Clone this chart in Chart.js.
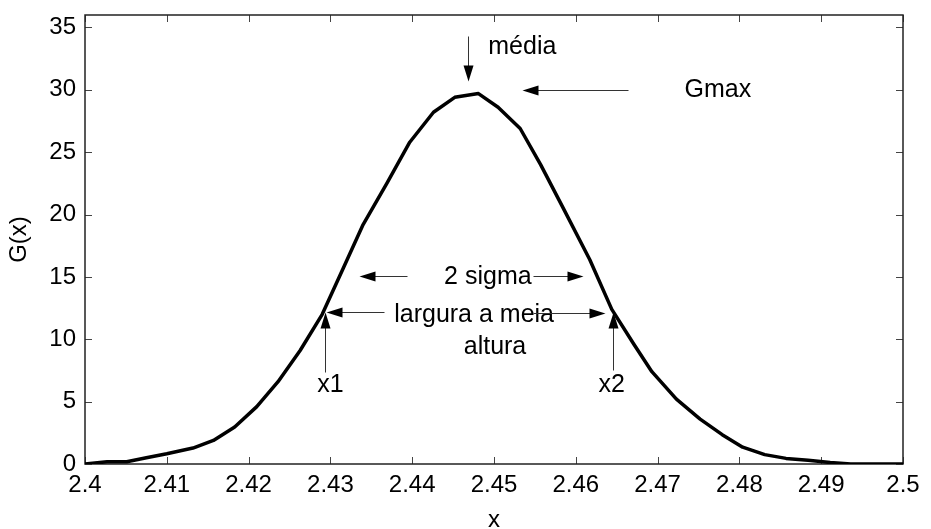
<!DOCTYPE html>
<html>
<head>
<meta charset="utf-8">
<title>G(x)</title>
<script src="https://cdn.jsdelivr.net/npm/chart.js@4/dist/chart.umd.min.js"></script>
<style>
  html, body { margin: 0; padding: 0; background: #fff; }
  #wrap { width: 931px; height: 529px; }
</style>
</head>
<body>
<div id="wrap"><canvas id="gauss" width="931" height="529"></canvas></div>
<script>
// Sampled curve G(x)
const xValues = [
  2.4000, 2.4027, 2.4051, 2.4075, 2.4100, 2.4132, 2.4157, 2.4183, 2.4210, 2.4236,
  2.4263, 2.4290, 2.4315, 2.4340, 2.4369, 2.4397, 2.4426, 2.4452, 2.4481, 2.4505,
  2.4532, 2.4557, 2.4584, 2.4617, 2.4644, 2.4671, 2.4693, 2.4723, 2.4752, 2.4779,
  2.4804, 2.4831, 2.4857, 2.4884, 2.4911, 2.4936, 2.4968, 2.5000
];
const gValues = [
  0, 0.18, 0.18, 0.5, 0.82, 1.28, 1.89, 2.96, 4.6, 6.6,
  9.1, 12.0, 15.6, 19.2, 22.5, 25.8, 28.2, 29.4, 29.7, 28.6,
  26.9, 24.0, 20.6, 16.4, 12.4, 9.6, 7.4, 5.2, 3.6, 2.35,
  1.35, 0.75, 0.45, 0.3, 0.12, 0, 0, 0
];

const xTicks = [2.4, 2.41, 2.42, 2.43, 2.44, 2.45, 2.46, 2.47, 2.48, 2.49, 2.5];
const yTicks = [0, 5, 10, 15, 20, 25, 30, 35];

// Callout labels and arrows, in data units
const notes = [
  { text: 'média', x: 2.4493, y: 33.4, align: 'left' },
  { text: 'Gmax', x: 2.4733, y: 30.0, align: 'left' },
  { text: '2 sigma', x: 2.4439, y: 15.0, align: 'left' },
  { text: 'largura a meia', x: 2.4378, y: 11.9, align: 'left' },
  { text: 'altura', x: 2.4463, y: 9.4, align: 'left' },
  { text: 'x1', x: 2.4300, y: 6.35, align: 'center' },
  { text: 'x2', x: 2.4644, y: 6.35, align: 'center' }
];
const arrows = [
  { from: [2.4468, 34.3], to: [2.4468, 30.7] },
  { from: [2.4664, 30.0], to: [2.4534, 30.0] },
  { from: [2.4394, 15.05], to: [2.4335, 15.05] },
  { from: [2.4548, 15.05], to: [2.4609, 15.05] },
  { from: [2.4365, 12.2], to: [2.4295, 12.2] },
  { from: [2.4548, 12.1], to: [2.4636, 12.1] },
  { from: [2.4293, 7.4], to: [2.4293, 12.2] },
  { from: [2.4645, 7.55], to: [2.4645, 12.2] }
];

const FONT = '"Liberation Sans", Arial, Helvetica, sans-serif';

function drawArrow(ctx, x0, y0, x1, y1) {
  const ang = Math.atan2(y1 - y0, x1 - x0);
  const len = 16, half = 5;
  const cos = Math.cos(ang), sin = Math.sin(ang);
  ctx.beginPath();
  ctx.moveTo(x0, y0);
  ctx.lineTo(x1 - cos * len * 0.8, y1 - sin * len * 0.8);
  ctx.stroke();
  ctx.beginPath();
  ctx.moveTo(x1, y1);
  ctx.lineTo(x1 - len * cos + half * sin, y1 - len * sin - half * cos);
  ctx.lineTo(x1 - len * cos - half * sin, y1 - len * sin + half * cos);
  ctx.closePath();
  ctx.fill();
}

// Box with inward ticks on all four sides
const framePlugin = {
  id: 'frame',
  beforeDatasetsDraw(chart) {
    const { ctx, chartArea: a, scales: { x, y } } = chart;
    ctx.save();
    ctx.strokeStyle = '#444';
    ctx.lineWidth = 1;
    ctx.beginPath();
    xTicks.forEach((v) => {
      const px = Math.round(x.getPixelForValue(v)) + 0.5;
      ctx.moveTo(px, a.bottom);
      ctx.lineTo(px, a.bottom - 7);
      ctx.moveTo(px, a.top);
      ctx.lineTo(px, a.top + 7);
    });
    yTicks.forEach((v) => {
      const py = Math.round(y.getPixelForValue(v)) + 0.5;
      ctx.moveTo(a.left, py);
      ctx.lineTo(a.left + 7, py);
      ctx.moveTo(a.right, py);
      ctx.lineTo(a.right - 7, py);
    });
    ctx.stroke();
    ctx.strokeStyle = '#222';
    ctx.lineWidth = 1.5;
    ctx.strokeRect(a.left, a.top, a.right - a.left, a.bottom - a.top);
    ctx.restore();
  },
  afterDatasetsDraw(chart) {
    const { ctx, scales: { x, y } } = chart;
    ctx.save();
    ctx.fillStyle = '#000';
    ctx.font = '25px ' + FONT;
    ctx.textBaseline = 'middle';
    notes.forEach((n) => {
      ctx.textAlign = n.align;
      ctx.fillText(n.text, x.getPixelForValue(n.x), y.getPixelForValue(n.y));
    });
    ctx.strokeStyle = '#333';
    ctx.fillStyle = '#000';
    ctx.lineWidth = 1;
    arrows.forEach((ar) => {
      drawArrow(
        ctx,
        Math.round(x.getPixelForValue(ar.from[0])) + 0.5, Math.round(y.getPixelForValue(ar.from[1])) + 0.5,
        Math.round(x.getPixelForValue(ar.to[0])) + 0.5, Math.round(y.getPixelForValue(ar.to[1])) + 0.5
      );
    });
    ctx.restore();
  }
};

const ctx = document.getElementById('gauss').getContext('2d');

new Chart(ctx, {
  type: 'line',
  data: {
    datasets: [{
      data: xValues.map((v, i) => ({ x: v, y: gValues[i] })),
      borderColor: '#000',
      borderWidth: 3.5,
      pointRadius: 0,
      tension: 0,
      fill: false,
      borderJoinStyle: 'round'
    }]
  },
  options: {
    responsive: false,
    animation: false,
    layout: { padding: { top: 15, right: 28, left: 0, bottom: 0 } },
    plugins: { legend: { display: false }, tooltip: { enabled: false } },
    scales: {
      x: {
        type: 'linear',
        min: 2.4,
        max: 2.5,
        afterBuildTicks: (s) => { s.ticks = xTicks.map((v) => ({ value: v })); },
        afterFit: (s) => { s.height = 65; },
        grid: { display: false, drawTicks: false },
        border: { display: false },
        ticks: {
          color: '#000',
          font: { size: 24, family: FONT },
          padding: 7,
          maxRotation: 0,
          autoSkip: false,
          callback: (v) => String(parseFloat(Number(v).toFixed(2)))
        },
        title: {
          display: true,
          text: 'x',
          color: '#000',
          font: { size: 24, family: FONT, lineHeight: 0.75 },
          padding: { top: 0, bottom: 0 }
        }
      },
      y: {
        min: 0,
        max: 36,
        afterBuildTicks: (s) => { s.ticks = yTicks.map((v) => ({ value: v })); },
        afterFit: (s) => {
          s.width = 85;
          // the top label sits below the frame, so no extra room is needed
          s.paddingTop = 0;
          s.paddingBottom = 0;
        },
        grid: { display: false, drawTicks: false },
        border: { display: false },
        ticks: {
          color: '#000',
          font: { size: 24, family: FONT },
          padding: 9
        },
        title: {
          display: true,
          text: 'G(x)',
          color: '#000',
          font: { size: 24, family: FONT },
          padding: { top: 5, bottom: 0 }
        }
      }
    }
  },
  plugins: [framePlugin]
});
</script>
</body>
</html>
